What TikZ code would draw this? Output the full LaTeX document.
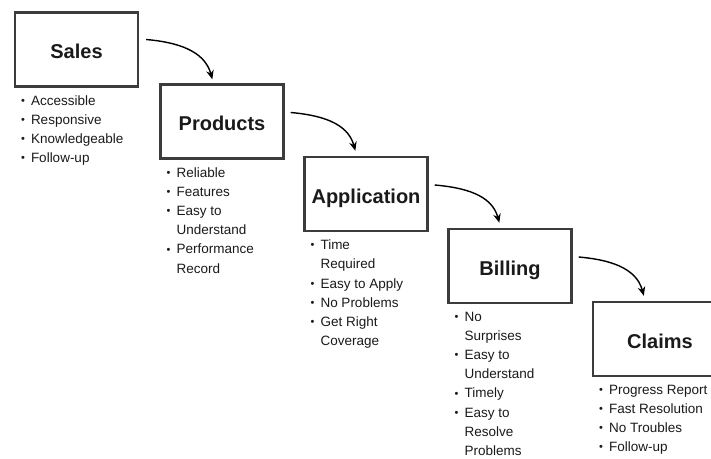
\documentclass[tikz,border=0pt]{standalone}
\usepackage{fontspec}
\setmainfont{Liberation Sans}
\usetikzlibrary{calc,arrows.meta}
\definecolor{boxgrey}{HTML}{3C3C3C}
\definecolor{txt}{HTML}{1A1A1A}
\newcommand\itm{\makebox[10pt][l]{\raisebox{0.8pt}{\fontsize{11}{11}\selectfont\textbullet}}}
\newcommand\cnt{\hspace*{10pt}}
\begin{document}
\begin{tikzpicture}[x=1pt,y=1pt,
  stage/.style={draw=boxgrey, line width=2.4pt, fill=white, minimum width=123pt,
    minimum height=74pt, inner sep=0pt, text height=18.4pt, text depth=0pt,
    font=\fontsize{20}{24}\selectfont\bfseries, text=txt},
  list/.style={anchor=north west, inner sep=0pt, align=left,
    font=\fontsize{13.5}{19.2}\selectfont, text=txt},
  flow/.style={line width=1.4pt, -{Stealth[length=9pt,width=7.5pt]}},
]
\useasboundingbox (0,0) rectangle (711,458);
\fill[white] (0,0) rectangle (711,458);

\node[stage] (sales)  at (76.5,408.5) {Sales};
\node[stage] (prod)   at (222,336.5) {Products};
\node[stage] (app)    at (366,264) {Application};
\node[stage] (bill)   at (510,192) {Billing};
\node[stage, minimum width=134pt] (claims) at (660,119) {Claims};

\node[list] (salesl) at ($(sales.south west)+(7,-7.5)$)
  {\itm Accessible\\ \itm Responsive\\ \itm Knowledgeable\\ \itm Follow-up};
\node[list] (prodl) at ($(prod.south west)+(7,-7.5)$)
  {\itm Reliable\\ \itm Features\\ \itm Easy to\\ \cnt Understand\\ \itm Performance\\ \cnt Record};
\node[list] (appl) at ($(app.south west)+(7,-7.5)$)
  {\itm Time\\ \cnt Required\\ \itm Easy to Apply\\ \itm No Problems\\ \itm Get Right\\ \cnt Coverage};
\node[list] (billl) at ($(bill.south west)+(7,-7.5)$)
  {\itm No\\ \cnt Surprises\\ \itm Easy to\\ \cnt Understand\\ \itm Timely\\ \itm Easy to\\ \cnt Resolve\\ \cnt Problems};
\node[list] (claimsl) at ($(claims.south west)+(7,-7.5)$)
  {\itm Progress Report\\ \itm Fast Resolution\\ \itm No Troubles\\ \itm Follow-up};

\draw[flow] ($(sales.east)+(7,10)$) to[out=-5,in=105] ($(prod.north west)+(53,4)$);
\draw[flow] ($(prod.east)+(6,9)$) to[out=-5,in=105] ($(app.north west)+(52,5)$);
\draw[flow] ($(app.east)+(6,9)$) to[out=-5,in=105] ($(bill.north west)+(52,5)$);
\draw[flow] ($(bill.east)+(6,9)$) to[out=-5,in=105] ($(claims.north west)+(52,5)$);
\end{tikzpicture}
\end{document}
